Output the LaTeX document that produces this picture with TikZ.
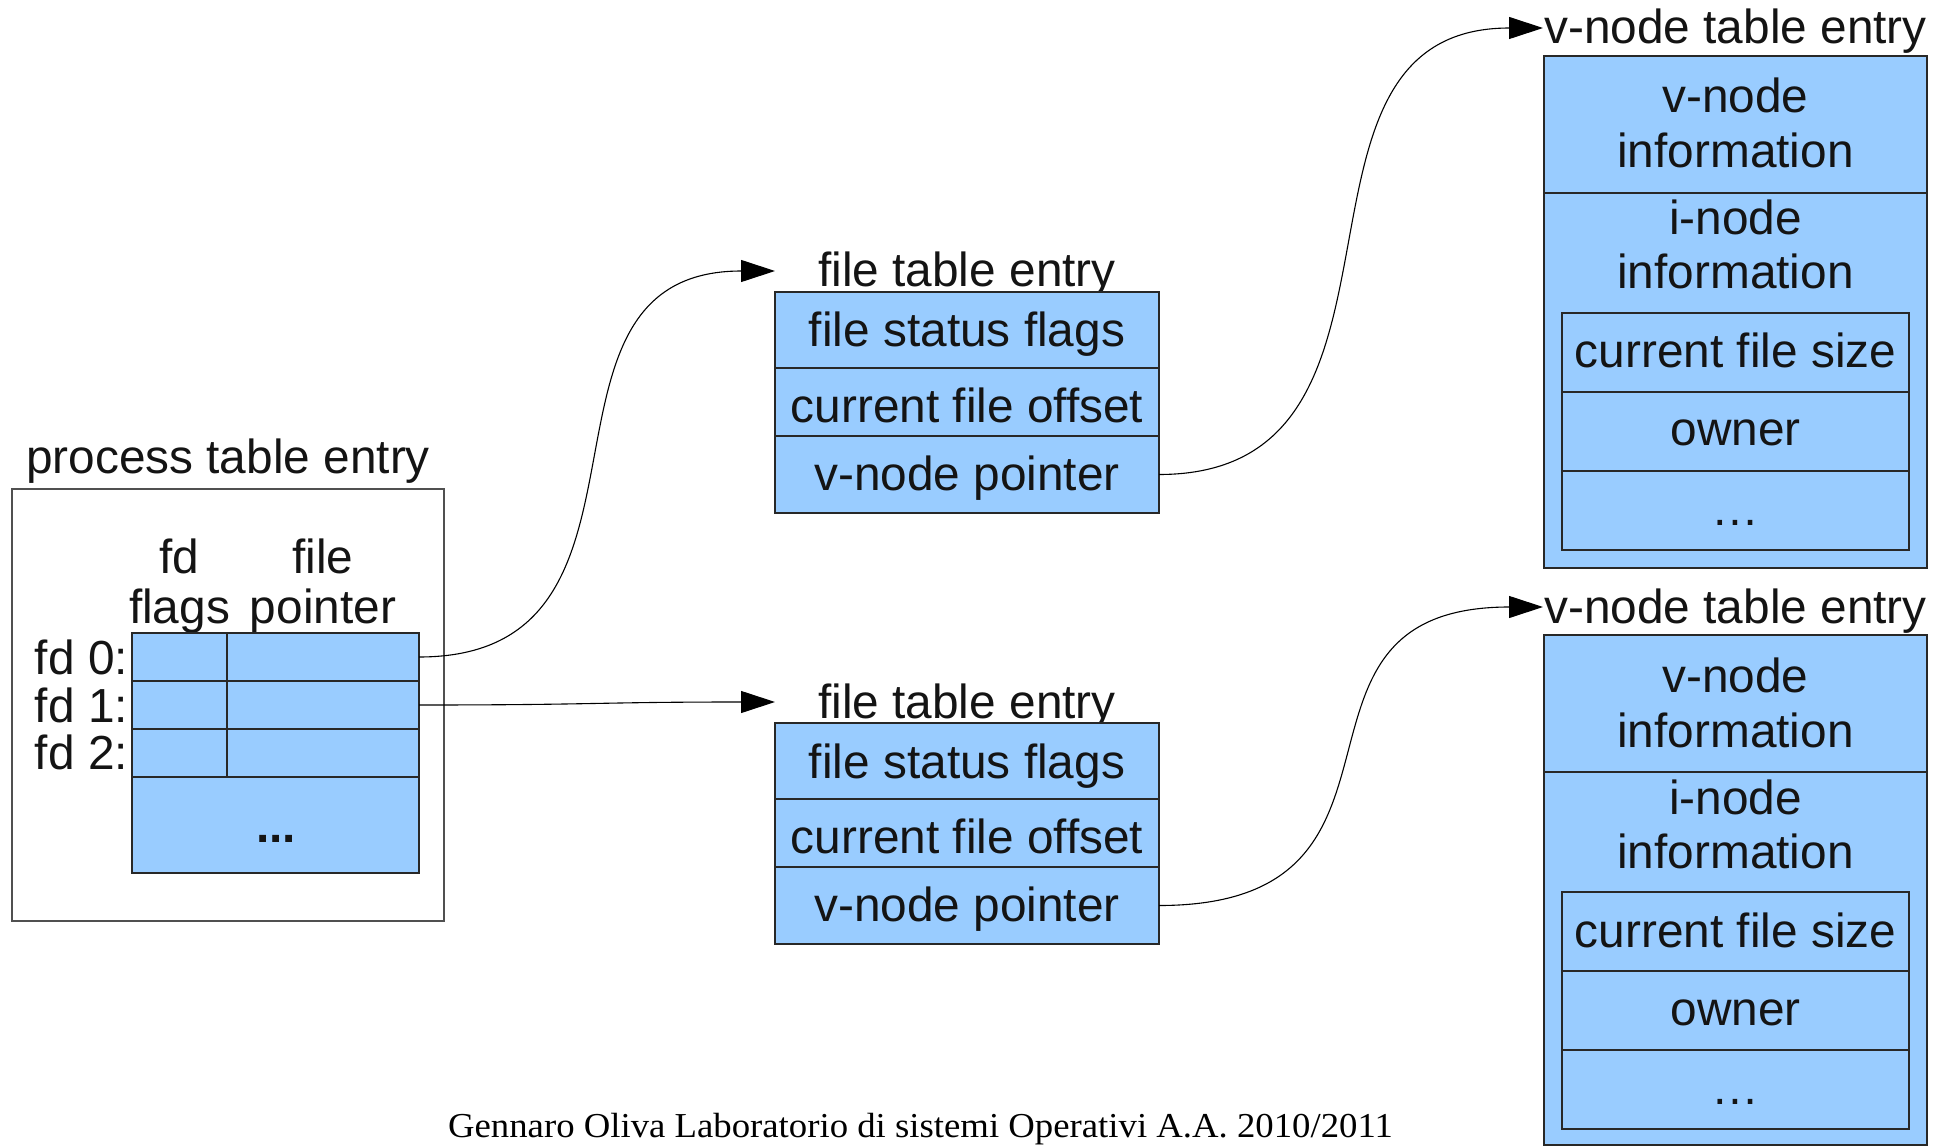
\documentclass[tikz,border=0pt]{standalone}
\usepackage{fontspec}
\setmainfont{Liberation Sans}
\newfontfamily\footfont{Liberation Serif}[FakeStretch=1.05]
\usetikzlibrary{arrows.meta,fit}
\definecolor{cellblue}{RGB}{153,204,255}
\definecolor{ink}{RGB}{20,20,20}
\definecolor{rule}{RGB}{40,40,40}
\definecolor{frame}{RGB}{80,80,80}

\begin{document}
\begin{tikzpicture}[x=1pt,y=-1pt,
  font=\fontsize{47.8}{53}\selectfont,
  cell/.style={draw=rule, fill=cellblue, line width=1.5pt, inner sep=0pt, outer sep=0pt},
  framebox/.style={draw=frame, line width=1.5pt, inner sep=0pt, outer sep=0pt},
  lbl/.style={anchor=base, inner sep=0pt, outer sep=0pt, text=ink},
  link/.style={draw=black, line width=1.1pt, -{Triangle[length=34pt,width=22pt]}}]

\useasboundingbox (0,0) rectangle (1941,1147);

% ---------- process table entry ----------
\node[framebox, fit={(12,489) (444,921)}] (proc) {};
\node[lbl] (proctitle) at (228,473) {process table entry};
\node[lbl] (hfd)    at (179.5,573) {fd};
\node[lbl] (hflags) at (179.5,623) {flags};
\node[lbl] (hfile)  at (323,573) {file};
\node[lbl] (hptr)   at (323,623) {pointer};

\foreach \r/\top/\bl in {0/633/674, 1/681/722, 2/729/769} {
  \node[cell, fit={(132,\top) (227,\top+48)}] (p\r a) {};
  \node[cell, fit={(227,\top) (419,\top+48)}] (p\r b) {};
  \node[lbl, anchor=base east] (fdl\r) at (128,\bl) {fd \r:};
}
\node[cell, fit={(132,777) (419,873)}] (prest) {};
\node[lbl] (prestdots) at (276,842) {\bfseries ...};

% ---------- file table entries ----------
\foreach \i/\dy in {1/0, 2/431} {
  \node[lbl] (ft\i title) at (967,287+\dy) {file table entry};
  \node[cell, fit={(775,292+\dy) (1159,368+\dy)}] (ft\i a) {};
  \node[cell, fit={(775,368+\dy) (1159,436+\dy)}] (ft\i b) {};
  \node[cell, fit={(775,436+\dy) (1159,513+\dy)}] (ft\i c) {};
  \node[lbl] (ft\i ta) at (967,347+\dy) {file status flags};
  \node[lbl] (ft\i tb) at (967,422+\dy) {current file offset};
  \node[lbl] (ft\i tc) at (967,490+\dy) {v-node pointer};
  \coordinate (ft\i tip) at (775,271+\dy);
}

% ---------- v-node table entries ----------
\foreach \i/\dy/\bot in {1/0/568, 2/579/1145} {
  \node[lbl] (vt\i title) at (1735.5,44+\dy) {v-node table entry};
  \node[cell, fit={(1544,56+\dy) (1927,193+\dy)}] (vt\i v) {};
  \node[cell, fit={(1544,193+\dy) (1927,\bot)}] (vt\i i) {};
  \node[cell, fit={(1562,313+\dy) (1909,392+\dy)}] (vt\i s) {};
  \node[cell, fit={(1562,392+\dy) (1909,471+\dy)}] (vt\i o) {};
  \node[cell, fit={(1562,471+\dy) (1909,550+\dy)}] (vt\i m) {};
  \node[lbl] (vt\i va) at (1735.5,113+\dy) {v-node};
  \node[lbl] (vt\i vb) at (1735.5,168+\dy) {information};
  \node[lbl] (vt\i ia) at (1735.5,235+\dy) {i-node};
  \node[lbl] (vt\i ib) at (1735.5,289+\dy) {information};
  \node[lbl] (vt\i ts) at (1735.5,368+\dy) {current file size};
  \node[lbl] (vt\i to) at (1735.5,446+\dy) {owner};
  \node[lbl] (vt\i tm) at (1735.5,525+\dy) {…};
  \coordinate (vt\i tip) at (1543,28+\dy);
}

% ---------- pointers ----------
\draw[link] (p0b.east) .. controls +(267,0) and +(-267,0) .. (ft1tip);
\draw[link] (p1b.east) .. controls +(178,0) and +(-178,0) .. (ft2tip);
\draw[link] (ft1c.east) .. controls +(285,0) and +(-285,0) .. (vt1tip);
\draw[link] (ft2c.east) .. controls +(288,0) and +(-288,0) .. (vt2tip);

% ---------- footer ----------
\node[lbl, text=black] (footer) at (920.5,1137)
  {\footfont\fontsize{35}{40}\selectfont Gennaro Oliva Laboratorio di sistemi Operativi A.A. 2010/2011};
\end{tikzpicture}
\end{document}
